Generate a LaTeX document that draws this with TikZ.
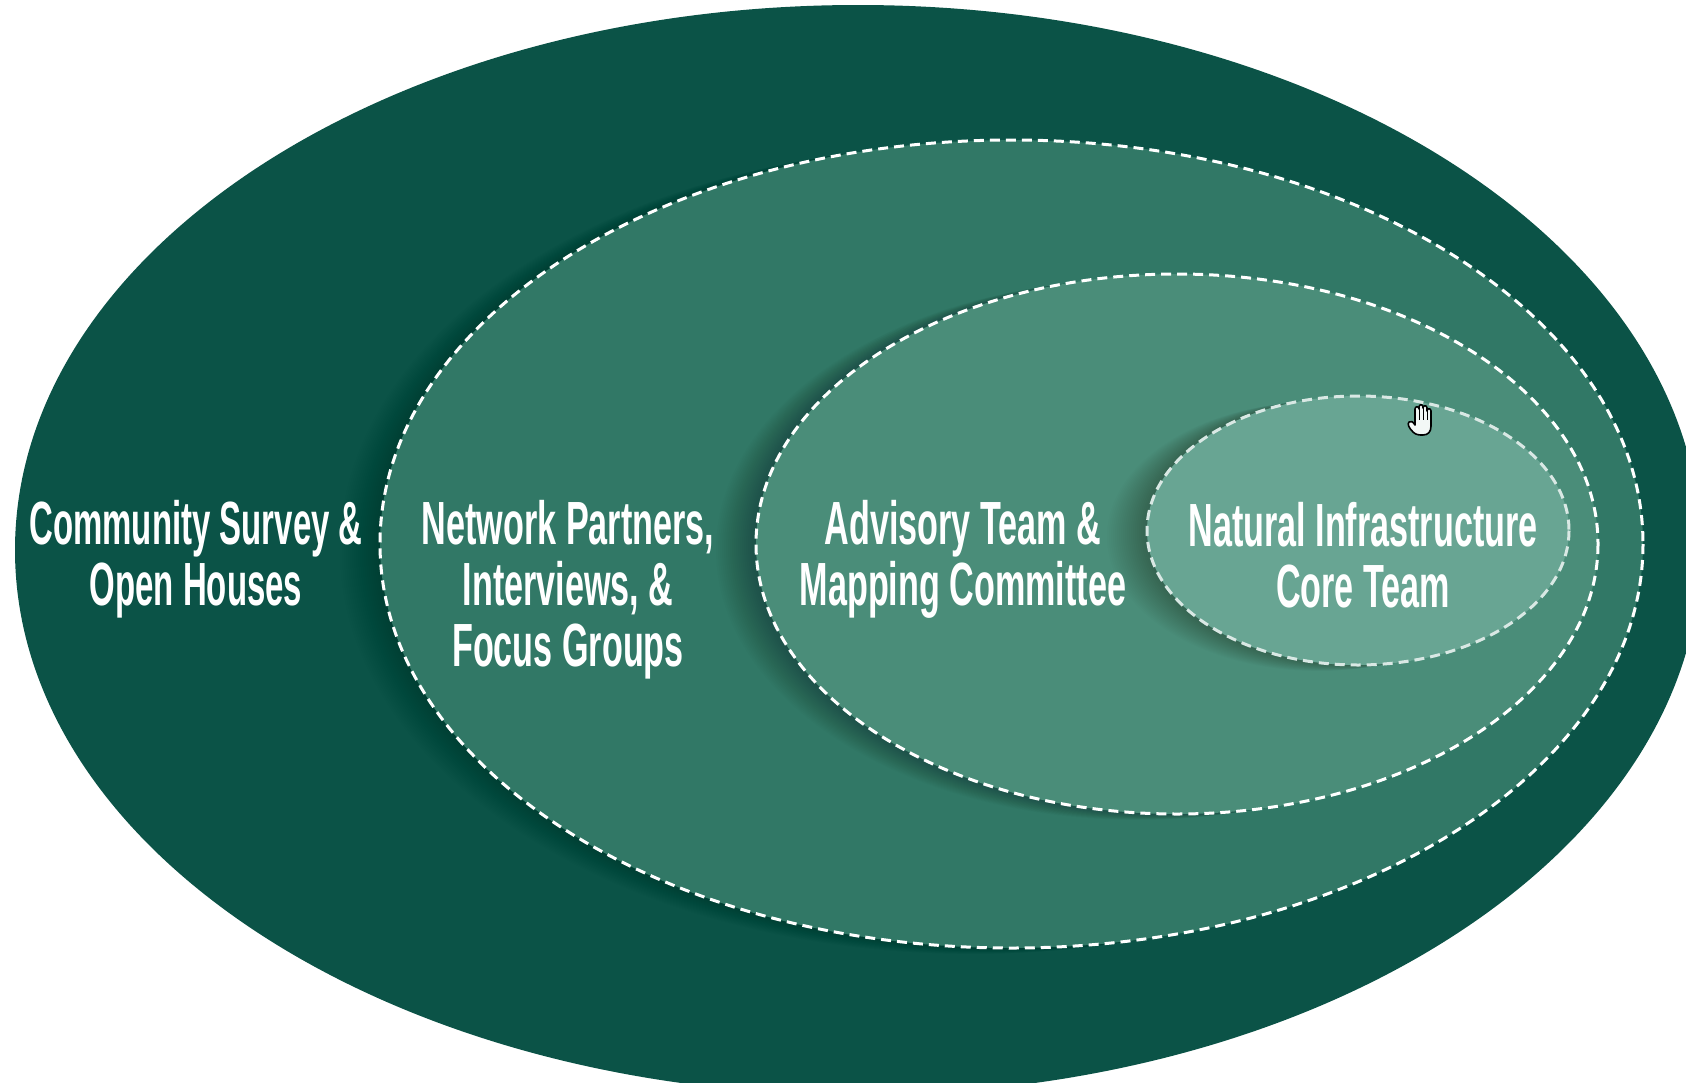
\documentclass[tikz,border=0pt]{standalone}
\usepackage{fontspec}
\setmainfont[FakeStretch=0.56,BoldFont={Liberation Sans Bold}]{Liberation Sans}
\usepackage{tikz}
\definecolor{ringone}{RGB}{11,83,71}
\definecolor{ringtwo}{RGB}{49,120,102}
\definecolor{ringthree}{RGB}{74,141,121}
\definecolor{ringfour}{RGB}{104,165,147}
\tikzset{
	ringline/.style={draw=white,line width=3pt,dash pattern=on 10pt off 6pt},
	ringtext/.style={text=white,align=center,font=\fontsize{61}{61}\selectfont\bfseries,inner sep=0pt},
	ringshadow/.style={fill=black,opacity=0.012}
}
\begin{document}
\begin{tikzpicture}[x=1pt,y=-1pt]

	\useasboundingbox (0,0) rectangle (1686,1082);
	\clip (0,0) rectangle (1686,1082);

	% outer ellipse

	\fill[ringone] (858,550) ellipse [x radius=843,y radius=545];

	% network partners

	\foreach \g in {2,4,...,40}
		\fill[ringshadow] (1011.5-\g,544+\g*0.15) ellipse [x radius=631.5,y radius=404];
	\fill[ringtwo] (1011.5,544) ellipse [x radius=631.5,y radius=404];
	\draw[ringline] (1011.5,544) ellipse [x radius=631.5,y radius=404];

	% advisory team

	\foreach \g in {2,4,...,40}
		\fill[ringshadow] (1177-\g,544+\g*0.15) ellipse [x radius=421,y radius=270];
	\fill[ringthree] (1177,544) ellipse [x radius=421,y radius=270];
	\draw[ringline] (1177,544) ellipse [x radius=421,y radius=270];

	% core team

	\foreach \g in {2,4,...,40}
		\fill[ringshadow] (1358-\g,530.5+\g*0.15) ellipse [x radius=211,y radius=134.5];
	\fill[ringfour] (1358,530.5) ellipse [x radius=211,y radius=134.5];
	\draw[ringline,draw=white!75!ringfour] (1358,530.5) ellipse [x radius=211,y radius=134.5];

	% labels

	\node[ringtext,xscale=0.965] (survey) at (196,559) {Community Survey \&\\Open Houses};
	\node[ringtext] (partners) at (568,590) {Network Partners,\\Interviews, \&\\Focus Groups};
	\node[ringtext] (advisory) at (963,559) {Advisory Team \&\\Mapping Committee};
	\node[ringtext] (core) at (1363,555) {Natural Infrastructure\\Core Team};

	% hand pointer

	\draw[black,fill=white!92!ringfour,line width=1.6pt,line join=round]
		(1413,432) .. controls (1409,428) and (1407,424) .. (1409,422)
		.. controls (1411,420) and (1413,422) .. (1415,425)
		-- (1415,409) .. controls (1415,406) and (1419,406) .. (1419,409)
		-- (1419,407) .. controls (1419,404) and (1423,404) .. (1423,407)
		-- (1423,408) .. controls (1423,405) and (1427,405) .. (1427,408)
		-- (1427,411) .. controls (1427,408) and (1431,408) .. (1431,411)
		-- (1431,426) .. controls (1431,432) and (1428,435) .. (1423,435)
		.. controls (1419,435) and (1416,435) .. (1413,432) -- cycle;
	\draw[black,line width=1pt] (1419,409) -- (1419,420) (1423,407) -- (1423,420) (1427,410) -- (1427,420);

\end{tikzpicture}
\end{document}
